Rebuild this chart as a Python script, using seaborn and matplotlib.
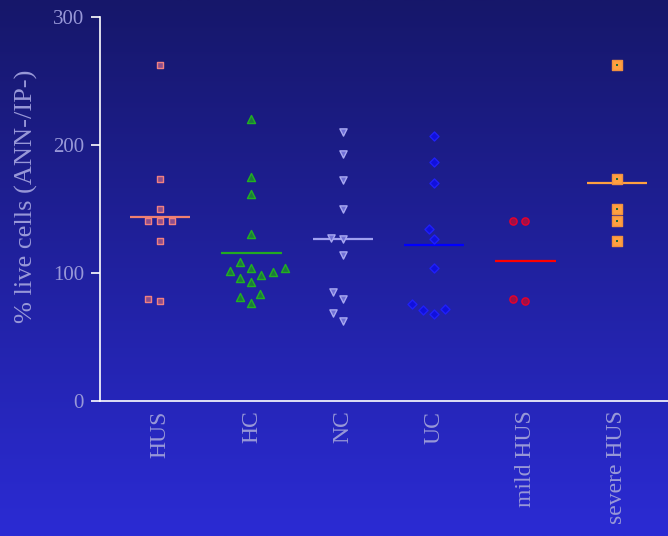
import numpy as np
import pandas as pd
import matplotlib.pyplot as plt
from matplotlib.colors import LinearSegmentedColormap
import seaborn as sns

# values (% live cells)
groups = ["HUS", "HC", "NC", "UC", "mild HUS", "severe HUS"]
hus = [262.5, 173.4, 150.0, 140.6, 140.6, 140.6, 125.0, 78.0, 79.7]
hc = [220.0, 175.2, 161.7, 130.2, 108.3, 100.8, 104.2, 104.2, 101.3,
      96.3, 98.4, 93.2, 83.6, 81.0, 76.8]
nc = [210.2, 193.2, 172.7, 149.7, 127.6, 126.3, 114.0, 85.4, 79.4, 68.5, 62.8]
uc = [206.8, 187.0, 170.0, 134.6, 126.3, 103.9, 71.6, 68.0, 71.4, 75.8]
mild_hus = [140.4, 140.4, 78.1, 79.7]
severe_hus = [262.2, 173.4, 149.7, 140.4, 124.8]
values = [hus, hc, nc, uc, mild_hus, severe_hus]

markers = ["s", "^", "v", "D", "o", "s"]
face_colors = ["#8a4c8e", "#1c7a3c", "#6e6ed6", "#1010dc", "#9c1048", "#ffa040"]
edge_colors = ["#f08080", "#22b022", "#a8a8f0", "#2020f8", "#e8002c", "#f09040"]
mean_colors = ["#f08070", "#22aa22", "#a0a0f0", "#0000ff", "#ff0000", "#ffa040"]
marker_sizes = [4.8, 5.8, 5.2, 4.6, 5.2, 7.0]

text_color = "#9898d8"
serif = ["Liberation Serif", "DejaVu Serif"]

fig = plt.figure(figsize=(6.68, 5.36), dpi=100)

# gradient background
bg = fig.add_axes([0, 0, 1, 1], zorder=-1)
cmap = LinearSegmentedColormap.from_list("bg", ["#16176a", "#2b2bd4"])
bg.imshow(np.linspace(0, 1, 256).reshape(-1, 1), aspect="auto", cmap=cmap,
          extent=(0, 1, 0, 1), origin="upper")
bg.set_axis_off()

ax = fig.add_axes([0.1497, 0.2519, 0.8503, 0.7164])
ax.set_facecolor("none")

layout_size = 7.4
swarms = []
for i, vals in enumerate(values):
    d = pd.DataFrame({"group": groups[i], "value": vals})
    n_before = len(ax.collections)
    sns.swarmplot(data=d, x="group", y="value", order=groups, ax=ax,
                  marker=markers[i], size=layout_size, color=face_colors[i],
                  edgecolor=edge_colors[i], linewidth=1.0, zorder=3)
    new = [c for c in ax.collections[n_before:] if len(c.get_offsets()) > 0]
    swarms.append(new)

# mean lines
for i, vals in enumerate(values):
    ax.hlines(np.mean(vals), i - 0.33, i + 0.33, color=mean_colors[i],
              linewidth=1.6, zorder=2)

ax.set_xlim(-0.657, 5.561)
ax.set_ylim(0, 300)
ax.set_yticks([0, 100, 200, 300])

# fix swarm layout, then shrink markers to their display size
fig.canvas.draw()
for colls, ms in zip(swarms, marker_sizes):
    for coll in colls:
        if "draw" in coll.__dict__:
            del coll.draw
        coll.set_sizes([ms ** 2])
for coll in swarms[-1]:
    sev = np.asarray(coll.get_offsets())
    ax.scatter(sev[:, 0], sev[:, 1], s=3, marker="s", color="#1f6a3a",
               linewidths=0, zorder=4)

for side in ["top", "right"]:
    ax.spines[side].set_visible(False)
for side in ["left", "bottom"]:
    ax.spines[side].set_color("white")
    ax.spines[side].set_linewidth(1.2)

ax.tick_params(axis="y", colors="white", length=6.5, width=1.2, pad=5,
               labelcolor=text_color, labelsize=15)
ax.tick_params(axis="x", length=0, pad=7, labelcolor=text_color, labelsize=17)
for lab in ax.get_yticklabels():
    lab.set_fontfamily(serif)
for lab in ax.get_xticklabels():
    lab.set_fontfamily(serif)
    lab.set_rotation(90)

ax.set_xlabel("")
ax.set_ylabel("% live cells (ANN-/IP-)", color=text_color, fontsize=19,
              fontfamily=serif)
ax.yaxis.set_label_coords(-0.11, 0.534)

fig.savefig("out.png", dpi=100)
